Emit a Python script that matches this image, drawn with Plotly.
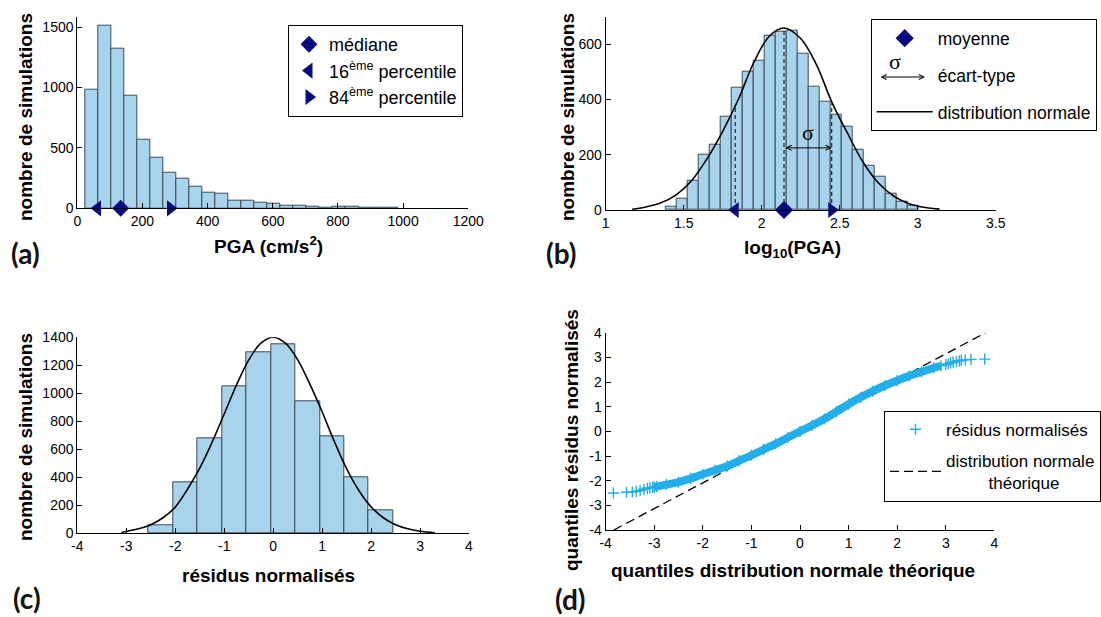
import plotly.graph_objects as go

W, H = 1101, 617

# ---------------- data ----------------
# (a) histogram of PGA
a_bin_start = 24.0
a_bin_width = 40.0
a_counts = [981, 1511, 1326, 934, 572, 423, 298, 249, 180, 133, 124, 64,
            64, 50, 36, 22, 22, 17, 8, 17, 17, 8, 8, 8]
a_p16, a_median, a_p84 = 62, 133, 286

# (b) histogram of log10(PGA)
b_bin_start = 1.385
b_bin_width = 0.0704
b_counts = [12, 41, 106, 199, 235, 337, 443, 500, 542, 632, 644, 650, 566,
            446, 394, 346, 301, 219, 159, 120, 58, 30, 16]
b_curve_x = [1.17, 1.25, 1.35, 1.45, 1.55, 1.65, 1.75, 1.85, 1.95, 2.05, 2.143,
             2.25, 2.35, 2.45, 2.55, 2.65, 2.75, 2.85, 2.95, 3.05, 3.14]
b_curve_y = [3, 10, 25, 54, 106, 186, 285, 400, 535, 630, 659,
             621, 527, 390, 278, 173, 97, 49, 22, 9, 3]
b_stats_x = [1.83, 2.143, 2.449]       # 16th percentile, mean, 84th percentile
b_stats_top = [373, 659, 386]
b_sigma_level = 225

# (c) histogram of normalised residuals
c_bin_start = -2.54
c_bin_width = 0.499
c_counts = [55, 364, 679, 1048, 1293, 1350, 943, 690, 398, 167]
c_curve_x = [-3.1, -2.75, -2.5, -2.25, -2.0, -1.75, -1.5, -1.25, -1.0, -0.75, -0.5,
             -0.25, 0.0, 0.25, 0.5, 0.75, 1.0, 1.25, 1.5, 1.75, 2.0, 2.25, 2.5,
             2.75, 3.0, 3.3]
c_curve_y = [6, 32, 61, 111, 187, 315, 465, 648, 852, 1058, 1237,
             1358, 1400, 1358, 1240, 1065, 868, 655, 462, 306, 189, 111, 61,
             32, 15, 4]

# (d) QQ plot
d_x = [-3.84, -3.57, -3.45, -3.37, -3.29, -3.21, -3.14, -3.09, -3.03, -3.0,
       -2.95, -2.75, -2.5, -2.25, -2.0, -1.75, -1.5, -1.25, -1.0, -0.75, -0.5,
       -0.25, 0.0, 0.25, 0.5, 0.75, 1.0, 1.25, 1.5, 1.75, 2.0, 2.25, 2.5, 2.75,
       2.9, 3.0, 3.05, 3.1, 3.15, 3.22, 3.28, 3.32, 3.40, 3.52, 3.80]
d_y = [-2.50, -2.47, -2.46, -2.43, -2.40, -2.35, -2.31, -2.29, -2.27, -2.26,
       -2.24, -2.16, -2.06, -1.91, -1.74, -1.58, -1.41, -1.19, -0.97, -0.74, -0.51,
       -0.25, 0.0, 0.24, 0.50, 0.80, 1.10, 1.38, 1.63, 1.86, 2.06, 2.25, 2.41, 2.57,
       2.66, 2.71, 2.74, 2.78, 2.81, 2.83, 2.86, 2.88, 2.90, 2.92, 2.93]
d_ref_x = [-3.83, 3.82]
d_ref_y = [-4.0, 4.0]

# tick labels
a_xticks = [0, 200, 400, 600, 800, 1000, 1200]
a_yticks = [0, 500, 1000, 1500]
b_xticks = [1, 1.5, 2, 2.5, 3, 3.5]
b_yticks = [0, 200, 400, 600]
c_xticks = [-4, -3, -2, -1, 0, 1, 2, 3, 4]
c_yticks = [0, 200, 400, 600, 800, 1000, 1200, 1400]
d_ticks = [-4, -3, -2, -1, 0, 1, 2, 3, 4]

# ---------------- styles ----------------
BAR_FILL = "#A7D3EC"
BAR_EDGE = "#3C4A55"
NAVY = "#0A0A80"
CYAN = "#22AEEA"
FONT = "Liberation Sans, Arial, sans-serif"


def centers(start, width, n):
    return [start + width * (i + 0.5) for i in range(n)]


def px(xp):
    return xp / W


def py(yp):
    return 1 - yp / H


def tick_text(vals):
    return [("%g" % v) for v in vals]   # plain hyphen-minus, as in the reference


fig = go.Figure()

# ---- (a)
fig.add_trace(go.Bar(x=centers(a_bin_start, a_bin_width, len(a_counts)), y=a_counts,
                     width=a_bin_width, marker=dict(color=BAR_FILL, line=dict(color=BAR_EDGE, width=1)),
                     showlegend=False, xaxis="x", yaxis="y"))
fig.add_trace(go.Scatter(x=[a_median], y=[0], mode="markers", name="médiane",
                         marker=dict(symbol="diamond", size=13, color=NAVY),
                         cliponaxis=False, legend="legend", legendgroup="a1", xaxis="x", yaxis="y"))
fig.add_trace(go.Scatter(x=[a_p16], y=[0], mode="markers", name="16<sup>ème</sup> percentile",
                         marker=dict(symbol="triangle-left", size=14, color=NAVY),
                         cliponaxis=False, legend="legend", legendgroup="a2", xaxis="x", yaxis="y"))
fig.add_trace(go.Scatter(x=[a_p84], y=[0], mode="markers", name="84<sup>ème</sup> percentile",
                         marker=dict(symbol="triangle-right", size=14, color=NAVY),
                         cliponaxis=False, legend="legend", legendgroup="a3", xaxis="x", yaxis="y"))

# ---- (b)
fig.add_trace(go.Bar(x=centers(b_bin_start, b_bin_width, len(b_counts)), y=b_counts,
                     width=b_bin_width, marker=dict(color=BAR_FILL, line=dict(color=BAR_EDGE, width=1)),
                     showlegend=False, xaxis="x2", yaxis="y2"))
vx, vy = [], []
for sx, st in zip(b_stats_x, b_stats_top):
    vx += [sx, sx, None]
    vy += [0, st, None]
fig.add_trace(go.Scatter(x=vx, y=vy, mode="lines", line=dict(color="black", width=1, dash="4px,3px"),
                         showlegend=False, xaxis="x2", yaxis="y2"))
fig.add_trace(go.Scatter(x=b_curve_x, y=b_curve_y, mode="lines", name="distribution normale",
                         line=dict(color="black", width=1.6, shape="spline", smoothing=1),
                         legend="legend2", legendgroup="b3", legendrank=3, xaxis="x2", yaxis="y2"))
fig.add_trace(go.Scatter(x=[b_stats_x[1]], y=[0], mode="markers", name="moyenne",
                         marker=dict(symbol="diamond", size=14, color=NAVY), cliponaxis=False,
                         legend="legend2", legendgroup="b1", legendrank=1, xaxis="x2", yaxis="y2"))
fig.add_trace(go.Scatter(x=[b_stats_x[0]], y=[0], mode="markers",
                         marker=dict(symbol="triangle-left", size=14, color=NAVY), cliponaxis=False,
                         showlegend=False, xaxis="x2", yaxis="y2"))
fig.add_trace(go.Scatter(x=[b_stats_x[2]], y=[0], mode="markers",
                         marker=dict(symbol="triangle-right", size=14, color=NAVY), cliponaxis=False,
                         showlegend=False, xaxis="x2", yaxis="y2"))
fig.add_trace(go.Scatter(x=[None], y=[None], mode="lines", name="écart-type",
                         line=dict(color="rgba(0,0,0,0)", width=0),
                         legend="legend2", legendgroup="b2", legendrank=2, xaxis="x2", yaxis="y2"))

# ---- (c)
fig.add_trace(go.Bar(x=centers(c_bin_start, c_bin_width, len(c_counts)), y=c_counts,
                     width=c_bin_width, marker=dict(color=BAR_FILL, line=dict(color=BAR_EDGE, width=1)),
                     showlegend=False, xaxis="x3", yaxis="y3"))
fig.add_trace(go.Scatter(x=c_curve_x, y=c_curve_y, mode="lines",
                         line=dict(color="black", width=1.6, shape="spline", smoothing=1),
                         showlegend=False, xaxis="x3", yaxis="y3"))

# ---- (d)
fig.add_trace(go.Scatter(x=d_ref_x, y=d_ref_y, mode="lines", name="distribution normale<br>"
                         + "\u00a0" * 9 + "théorique",
                         line=dict(color="black", width=1.3, dash="9px,5px"),
                         legend="legend3", legendgroup="d2", legendrank=2, xaxis="x4", yaxis="y4"))
band = [(x, y) for x, y in zip(d_x, d_y) if -3.0 <= x <= 2.9]
fig.add_trace(go.Scatter(x=[p[0] for p in band], y=[p[1] for p in band], mode="lines",
                         line=dict(color=CYAN, width=8, shape="spline"),
                         showlegend=False, xaxis="x4", yaxis="y4"))
fig.add_trace(go.Scatter(x=d_x, y=d_y, mode="markers", name="résidus normalisés",
                         marker=dict(symbol="cross-thin", size=8, line=dict(color=CYAN, width=1.4)),
                         legend="legend3", legendgroup="d1", legendrank=1, xaxis="x4", yaxis="y4"))

# ---------------- layout ----------------
axis_common = dict(showline=True, linecolor="black", linewidth=1, ticks="inside", ticklen=5,
                   tickcolor="black", tickwidth=1, showgrid=False, zeroline=False, mirror=False,
                   tickfont=dict(family=FONT, size=14, color="black"), fixedrange=True,
                   ticklabelstandoff=0)

legend_common = dict(xanchor="left", yanchor="top", bordercolor="black", borderwidth=1,
                     bgcolor="white", traceorder="grouped")

annotations = []


def label(text, xp, yp, size=19, angle=0, family=FONT, color="black"):
    annotations.append(dict(text=text, x=px(xp), y=py(yp), xref="paper", yref="paper",
                            showarrow=False, textangle=angle, xanchor="center", yanchor="middle",
                            font=dict(family=family, size=size, color=color)))


# axis titles
label("<b>PGA (cm/s<sup>2</sup>)</b>", 268, 245)
label("<b>nombre de simulations</b>", 25, 117, angle=-90)
label("<b>log<sub>10</sub>(PGA)</b>", 792, 249)
label("<b>nombre de simulations</b>", 567, 117, angle=-90)
label("<b>résidus normalisés</b>", 268, 575)
label("<b>nombre de simulations</b>", 25, 437, angle=-90)
label("<b>quantiles distribution normale théorique</b>", 793, 570)
label("<b>quantiles résidus normalisés</b>", 571, 440, angle=-90)

# panel labels
for t, xp, yp in [("(a)", 26, 253), ("(b)", 561, 253), ("(c)", 27, 598), ("(d)", 570, 599)]:
    label("<b>" + t + "</b>", xp, yp, size=28, family="Lato, Liberation Sans, sans-serif", color="#111111")

# sigma arrow inside panel (b)
annotations.append(dict(x=b_stats_x[2], y=b_sigma_level, ax=b_stats_x[1], ay=b_sigma_level,
                        xref="x2", yref="y2", axref="x2", ayref="y2", text="", showarrow=True,
                        arrowside="end+start", arrowhead=5, startarrowhead=5, arrowsize=1,
                        startarrowsize=1, arrowwidth=1, arrowcolor="black", standoff=0, startstandoff=0))
annotations.append(dict(x=(b_stats_x[1] + b_stats_x[2]) / 2, y=b_sigma_level, xref="x2", yref="y2",
                        text="σ", showarrow=False, yanchor="bottom", yshift=1,
                        font=dict(family="Liberation Serif, serif", size=22, color="black")))
# sigma glyph of the legend (b)
annotations.append(dict(x=px(925), y=py(77), xref="paper", yref="paper", ax=-46, ay=0, text="",
                        showarrow=True, arrowside="end+start", arrowhead=5, startarrowhead=5,
                        arrowsize=1, startarrowsize=1, arrowwidth=1, arrowcolor="black"))
annotations.append(dict(x=px(903), y=py(76), xref="paper", yref="paper", text="σ", showarrow=False,
                        yanchor="bottom", font=dict(family="Liberation Serif, serif", size=22, color="black")))

fig.update_layout(
    width=W, height=H, autosize=False,
    margin=dict(l=0, r=0, t=0, b=0, pad=0, autoexpand=False),
    paper_bgcolor="white", plot_bgcolor="white",
    bargap=0,
    font=dict(family=FONT, color="black"),
    xaxis=dict(axis_common, domain=[px(77.3), px(468.3)], range=[0, 1200], anchor="y",
               tickvals=a_xticks, ticktext=tick_text(a_xticks)),
    yaxis=dict(axis_common, domain=[py(208.3), py(16.7)], range=[0, 1587], anchor="x",
               tickvals=a_yticks, ticktext=tick_text(a_yticks)),
    xaxis2=dict(axis_common, domain=[px(605.7), px(995.7)], range=[1, 3.5], anchor="y2",
                tickvals=b_xticks, ticktext=tick_text(b_xticks)),
    yaxis2=dict(axis_common, domain=[py(210), py(16.7)], range=[0, 700], anchor="x2",
                tickvals=b_yticks, ticktext=tick_text(b_yticks)),
    xaxis3=dict(axis_common, domain=[px(77.3), px(469)], range=[-4, 4], anchor="y3",
                tickvals=c_xticks, ticktext=tick_text(c_xticks)),
    yaxis3=dict(axis_common, domain=[py(533.3), py(337.3)], range=[0, 1400], anchor="x3",
                tickvals=c_yticks, ticktext=tick_text(c_yticks)),
    xaxis4=dict(axis_common, domain=[px(605.6), px(994.4)], range=[-4, 4], anchor="y4",
                tickvals=d_ticks, ticktext=tick_text(d_ticks)),
    yaxis4=dict(axis_common, domain=[py(530), py(332.7)], range=[-4, 4], anchor="x4",
                tickvals=d_ticks, ticktext=tick_text(d_ticks)),
    legend=dict(legend_common, x=px(288), y=py(25), itemwidth=30, tracegroupgap=0,
                font=dict(family=FONT, size=18, color="black")),
    legend2=dict(legend_common, x=px(870.7), y=py(19.3), itemwidth=56, tracegroupgap=11,
                 font=dict(family=FONT, size=17.5, color="black")),
    legend3=dict(legend_common, x=px(884), y=py(410.7), itemwidth=51, tracegroupgap=6,
                 font=dict(family=FONT, size=17, color="black")),
    annotations=annotations,
)

fig.write_html("out.html", config={"displayModeBar": False},
               post_script="document.body.style.margin='0px';document.body.style.overflow='hidden';")
